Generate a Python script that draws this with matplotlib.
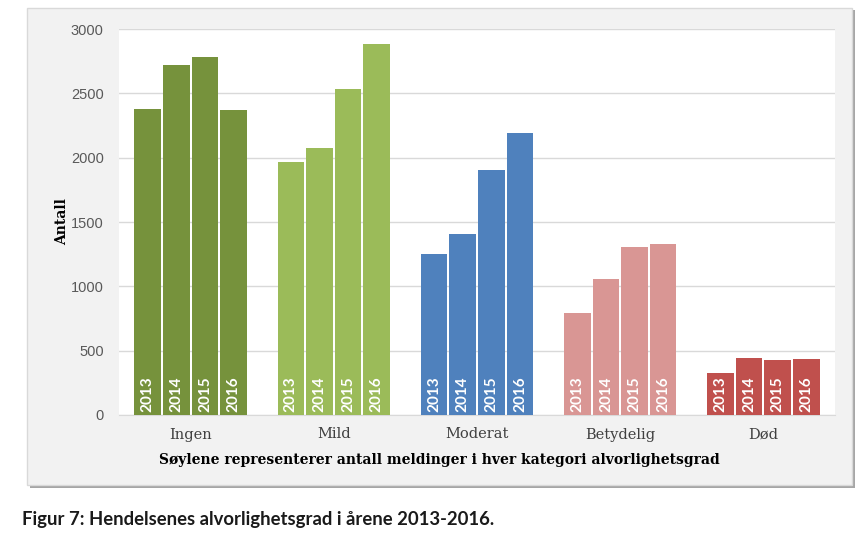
import matplotlib
matplotlib.use("Agg")
from matplotlib import pyplot as plt
from matplotlib.patches import Rectangle
import numpy as np

categories = ["Ingen", "Mild", "Moderat", "Betydelig", "Død"]
years = ["2013", "2014", "2015", "2016"]
values = {
    "Ingen": [2378, 2720, 2782, 2370],
    "Mild": [1966, 2075, 2534, 2883],
    "Moderat": [1251, 1407, 1904, 2192],
    "Betydelig": [793, 1057, 1306, 1329],
    "Død": [326, 443, 427, 435],
}
colors = ["#76923c", "#9bbb59", "#4f81bd", "#d99694", "#c0504d"]

fig = plt.figure(figsize=(8.68, 5.37), dpi=100)
fig.patch.set_facecolor("white")

# gray chart box with a soft shadow
fig.patches.append(Rectangle((30 / 868, 1 - 488 / 537), 825 / 868, 478 / 537,
                             transform=fig.transFigure, facecolor="#a6a6a6",
                             edgecolor="none", zorder=0))
fig.patches.append(Rectangle((27 / 868, 1 - 485 / 537), 825 / 868, 477 / 537,
                             transform=fig.transFigure, facecolor="#f2f2f2",
                             edgecolor="#d9d9d9", linewidth=1, zorder=1))

ax = fig.add_axes([119 / 868, 1 - 415 / 537, 716 / 868, 386 / 537])
ax.set_facecolor("white")
ax.set_zorder(2)

x = np.arange(len(categories))
w = 0.2
for i, cat in enumerate(categories):
    for j, yr in enumerate(years):
        xpos = x[i] + (j - 1.5) * w
        ax.bar(xpos, values[cat][j], width=w * 0.93, color=colors[i], zorder=3)
        ax.text(xpos, 22, yr, rotation=90, ha="center", va="bottom",
                color="white", fontsize=11, fontweight="bold", family="Lato",
                zorder=4)

ax.set_xlim(-0.5, len(categories) - 0.5)
ax.set_ylim(0, 3000)
ax.set_yticks(np.arange(0, 3001, 500))
ax.yaxis.grid(True, color="#d9d9d9", linewidth=1)
ax.set_axisbelow(True)
for s in ["left", "right", "top"]:
    ax.spines[s].set_visible(False)
ax.spines["bottom"].set_color("#d9d9d9")
ax.tick_params(axis="y", length=0, pad=11, labelsize=10.5, labelcolor="#595959")
ax.tick_params(axis="x", length=0, pad=9)
ax.set_xticks(x)
ax.set_xticklabels(categories, family="DejaVu Serif", fontsize=10.5,
                   color="#404040")
for lbl in ax.get_yticklabels():
    lbl.set_family("Liberation Sans")

ax.set_ylabel("Antall", family="DejaVu Serif", fontweight="bold",
              fontsize=10, labelpad=1)
ax.set_xlabel("Søylene representerer antall meldinger i hver kategori alvorlighetsgrad",
              family="DejaVu Serif", fontweight="bold", fontsize=10)
ax.xaxis.set_label_coords((439 - 119) / 716, -0.098)

fig.text(22 / 868, 1 - 520 / 537, "Figur 7: Hendelsenes alvorlighetsgrad i årene 2013-2016.",
         family="Lato", fontweight="bold", fontsize=13.3, color="#1a1a1a",
         va="center", ha="left")

fig.savefig("out.png", dpi=100)
